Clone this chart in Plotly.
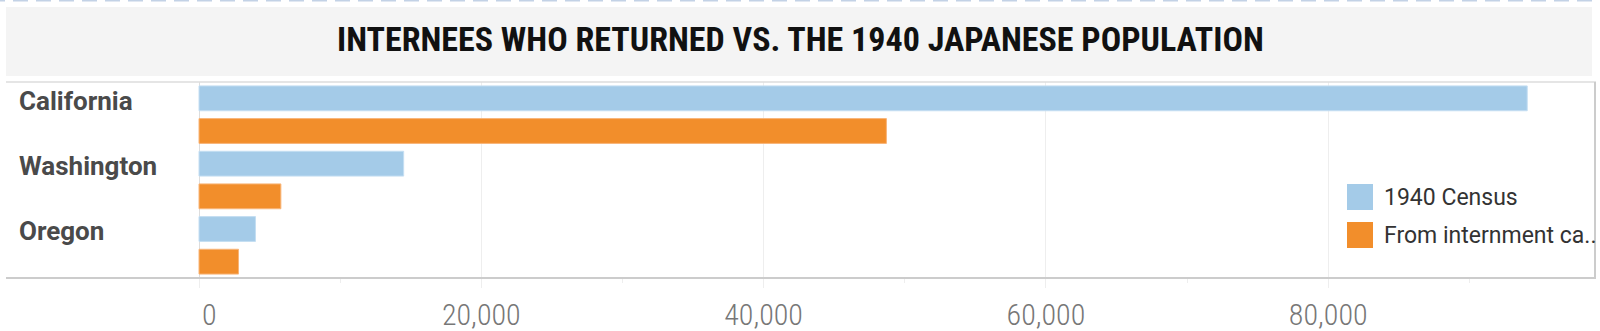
import plotly.graph_objects as go

# ---- data ----
states = ["California", "Washington", "Oregon"]
census_1940 = [94100, 14500, 4000]
from_camps = [48700, 5800, 2800]
series_names = ["1940 Census", "From internment ca.."]
tick_values = [0, 20000, 40000, 60000, 80000]
tick_labels = ["\u2007\u20090", "20,000", "40,000", "60,000", "80,000"]
minor_tick_values = [10000, 30000, 50000, 70000, 90000]
title_text = "INTERNEES WHO RETURNED VS. THE 1940 JAPANESE POPULATION"

W, H = 1600, 331
L, R, T, B = 6, 1595, 82, 278  # plot area in pixels

def px(x):
    return (x - L) / (R - L)

def py(y):
    return 1 - (y - T) / (B - T)

BLUE = "#a4cbe8"
ORANGE = "#f28e2b"
COND = "Roboto Condensed, Barlow Condensed, Asap Condensed, sans-serif"

fig = go.Figure()
fig.add_bar(y=states, x=census_1940, orientation="h", name=series_names[0],
            marker=dict(color=BLUE, line=dict(color="#c4def2", width=1)),
            showlegend=False)
fig.add_bar(y=states, x=from_camps, orientation="h", name=series_names[1],
            marker=dict(color=ORANGE, line=dict(color="#f8b579", width=1)),
            showlegend=False)

# x range so that 0 sits at pixel 199 and 20,000 spans ~282 px
scale = 20000 / 282.3
x_min = -(199 - L) * scale
x_max = (R - 199) * scale

shapes = []
# dashed top line
shapes.append(dict(type="line", xref="paper", yref="paper", x0=px(-10), x1=px(1610),
                   y0=py(0.5), y1=py(0.5), line=dict(color="#c3d2e6", width=2, dash="15px,8px")))
# title box
shapes.append(dict(type="rect", xref="paper", yref="paper", x0=px(6), x1=px(1592),
                   y0=py(76), y1=py(7), fillcolor="#f4f4f4", line=dict(width=0), layer="below"))
# frame lines
shapes.append(dict(type="line", xref="paper", yref="paper", x0=px(6), x1=px(1596),
                   y0=py(82), y1=py(82), line=dict(color="#dddddd", width=1.5)))
shapes.append(dict(type="line", xref="paper", yref="paper", x0=px(6), x1=px(1596),
                   y0=py(278), y1=py(278), line=dict(color="#cccccc", width=2)))
shapes.append(dict(type="line", xref="paper", yref="paper", x0=px(1595), x1=px(1595),
                   y0=py(82), y1=py(279), line=dict(color="#cccccc", width=2)))
# legend swatches
sw_colors = [BLUE, ORANGE]
sw_tops = [184, 222]
for c, t in zip(sw_colors, sw_tops):
    shapes.append(dict(type="rect", xref="paper", yref="paper", x0=px(1347), x1=px(1373),
                       y0=py(t + 26), y1=py(t), fillcolor=c, line=dict(width=0)))

annotations = []
annotations.append(dict(text=title_text, xref="paper", yref="paper", x=px(801), y=py(39),
                        xanchor="center", yanchor="middle", showarrow=False,
                        font=dict(family=COND, size=34, color="#111111", weight="bold")))
for s in states:
    annotations.append(dict(text=s, xref="paper", yref="y", x=px(17), y=s, yshift=14,
                            xanchor="left", yanchor="middle", showarrow=False,
                            font=dict(family="Roboto", size=26, color="#4a4a4a", weight="bold")))
for name, t in zip(series_names, sw_tops):
    annotations.append(dict(text=name, xref="paper", yref="paper", x=px(1382), y=py(t + 13),
                            xanchor="left", yanchor="middle", showarrow=False,
                            font=dict(family="Roboto", size=23, color="#333333")))

fig.update_layout(
    width=W, height=H,
    margin=dict(l=L, r=W - R, t=T, b=H - B, pad=0, autoexpand=False),
    paper_bgcolor="white", plot_bgcolor="white",
    barmode="group", bargap=0, bargroupgap=0.24,
    shapes=shapes, annotations=annotations,
    showlegend=False,
    xaxis=dict(range=[x_min, x_max], tickvals=tick_values, ticktext=tick_labels,
               automargin=False,
               showgrid=True, gridcolor="#eeeeee", gridwidth=1,
               zeroline=True, zerolinecolor="#dddddd", zerolinewidth=1,
               ticks="outside", ticklen=9, tickcolor="#eeeeee", tickwidth=1,
               ticklabelstandoff=1,
               minor=dict(tickvals=minor_tick_values, ticks="outside", ticklen=4,
                          tickcolor="#eeeeee", showgrid=False),
               showline=False,
               tickfont=dict(family=COND, size=30, color="#777777", weight=300)),
    yaxis=dict(categoryorder="array", categoryarray=states, autorange="reversed",
               automargin=False,
               showticklabels=False, showgrid=False, zeroline=False, showline=False),
)

fig.write_html("out.html")
